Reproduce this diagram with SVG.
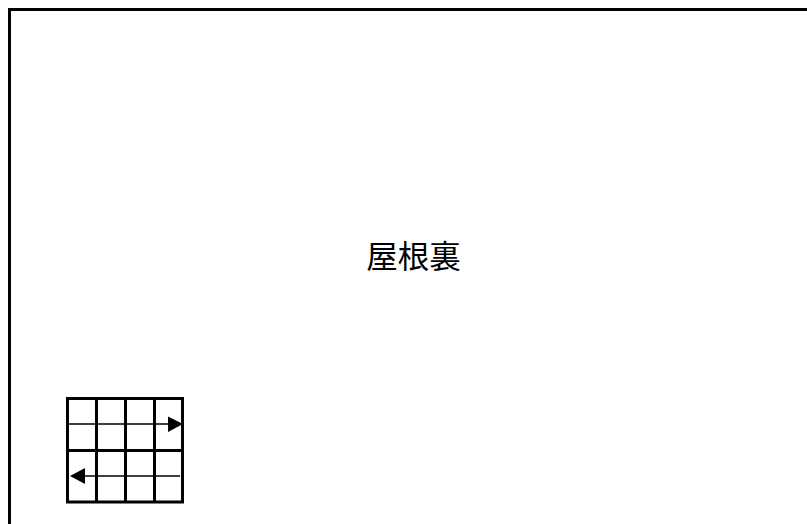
<svg xmlns="http://www.w3.org/2000/svg" width="807" height="524" viewBox="0 0 807 524">
<style>
.w{fill:none;stroke:#000;stroke-width:3}
.g{fill:none;stroke:#000;stroke-width:3}
.t{fill:none;stroke:#000;stroke-width:1.500}
.l{font-family:"Noto Sans CJK JP","Liberation Sans",sans-serif;font-size:31.500px;text-anchor:middle;fill:#000}
</style>
<rect width="807" height="524" fill="#fff"/>
<g id="wall"><path class="w" d="M9.500 524V9.500H807"/></g>
<g id="label"><text class="l" x="413.500" y="268">屋根裏</text></g>
<g id="stairs">
<path class="g" d="M67.500 398.500H182.500V502H67.500ZM96.500 398.500V502M125.500 398.500V502M154.500 398.500V502M67.500 450.500H182.500"/>
</g>
<g id="connectors">
<path class="t" d="M68 424H170M180 476H84"/>
<polygon points="183,424 168,416.500 168,432"/>
<polygon points="70,476 85,468 85,484"/>
</g>
</svg>
